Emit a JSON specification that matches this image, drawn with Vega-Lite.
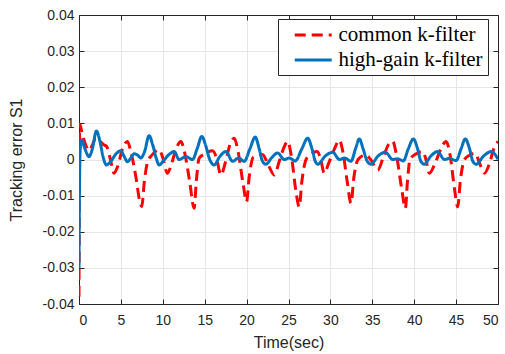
{
  "$schema": "https://vega.github.io/schema/vega-lite/v6.json",
  "width": 419,
  "height": 289,
  "autosize": {"type": "none"},
  "padding": {"left": 79, "top": 15, "right": 7, "bottom": 50},
  "config": {
    "view": {"stroke": "#262626", "strokeWidth": 1},
    "font": "Liberation Sans",
    "axis": {
      "labelColor": "#262626",
      "labelFontSize": 14,
      "labelFont": "Liberation Sans",
      "tickColor": "#262626",
      "domainColor": "#262626",
      "gridColor": "#e6e6e6",
      "tickSize": -5,
      "titleFont": "Liberation Sans",
      "titleFontSize": 16,
      "titleFontWeight": "normal",
      "titleColor": "#262626"
    }
  },
  "data": {
    "values": [
      {"t": 0, "v": -0.038, "s": "common k-filter"},
      {"t": 0.08, "v": 0.0098, "s": "common k-filter"},
      {"t": 0.4, "v": 0.007, "s": "common k-filter"},
      {"t": 0.8, "v": 0.004, "s": "common k-filter"},
      {"t": 1.2, "v": 0.0025, "s": "common k-filter"},
      {"t": 1.6, "v": 0.004, "s": "common k-filter"},
      {"t": 2.0, "v": 0.0059, "s": "common k-filter"},
      {"t": 2.5, "v": 0.005, "s": "common k-filter"},
      {"t": 3.0, "v": 0.004, "s": "common k-filter"},
      {"t": 3.3, "v": 0.0036, "s": "common k-filter"},
      {"t": 3.7, "v": 0.0005, "s": "common k-filter"},
      {"t": 4.18, "v": -0.0038, "s": "common k-filter"},
      {"t": 4.6, "v": -0.002, "s": "common k-filter"},
      {"t": 5.2, "v": 0.003, "s": "common k-filter"},
      {"t": 5.78, "v": 0.005, "s": "common k-filter"},
      {"t": 6.2, "v": 0.002, "s": "common k-filter"},
      {"t": 6.8, "v": -0.005, "s": "common k-filter"},
      {"t": 7.2, "v": -0.011, "s": "common k-filter"},
      {"t": 7.49, "v": -0.013, "s": "common k-filter"},
      {"t": 7.8, "v": -0.006, "s": "common k-filter"},
      {"t": 8.2, "v": -0.0005, "s": "common k-filter"},
      {"t": 8.7, "v": 0.0012, "s": "common k-filter"},
      {"t": 9.56, "v": 0.0027, "s": "common k-filter"},
      {"t": 10.0, "v": 0.0005, "s": "common k-filter"},
      {"t": 10.56, "v": -0.0038, "s": "common k-filter"},
      {"t": 11.0, "v": -0.0015, "s": "common k-filter"},
      {"t": 11.6, "v": 0.003, "s": "common k-filter"},
      {"t": 12.15, "v": 0.005, "s": "common k-filter"},
      {"t": 12.6, "v": 0.002, "s": "common k-filter"},
      {"t": 13.2, "v": -0.006, "s": "common k-filter"},
      {"t": 13.74, "v": -0.0135, "s": "common k-filter"},
      {"t": 14.0, "v": -0.006, "s": "common k-filter"},
      {"t": 14.34, "v": 0.0004, "s": "common k-filter"},
      {"t": 15.0, "v": 0.0015, "s": "common k-filter"},
      {"t": 15.93, "v": 0.0024, "s": "common k-filter"},
      {"t": 16.4, "v": 0.0005, "s": "common k-filter"},
      {"t": 16.93, "v": -0.0043, "s": "common k-filter"},
      {"t": 17.5, "v": -0.0005, "s": "common k-filter"},
      {"t": 18.0, "v": 0.004, "s": "common k-filter"},
      {"t": 18.52, "v": 0.0059, "s": "common k-filter"},
      {"t": 19.0, "v": 0.002, "s": "common k-filter"},
      {"t": 19.6, "v": -0.007, "s": "common k-filter"},
      {"t": 20.0, "v": -0.0117, "s": "common k-filter"},
      {"t": 20.3, "v": -0.005, "s": "common k-filter"},
      {"t": 20.8, "v": 0.0006, "s": "common k-filter"},
      {"t": 21.4, "v": 0.001, "s": "common k-filter"},
      {"t": 21.9, "v": 0.0014, "s": "common k-filter"},
      {"t": 22.5, "v": -0.001, "s": "common k-filter"},
      {"t": 23.3, "v": -0.0043, "s": "common k-filter"},
      {"t": 23.9, "v": -0.0005, "s": "common k-filter"},
      {"t": 24.4, "v": 0.003, "s": "common k-filter"},
      {"t": 24.9, "v": 0.005, "s": "common k-filter"},
      {"t": 25.4, "v": 0.0, "s": "common k-filter"},
      {"t": 25.9, "v": -0.009, "s": "common k-filter"},
      {"t": 26.28, "v": -0.0131, "s": "common k-filter"},
      {"t": 26.6, "v": -0.006, "s": "common k-filter"},
      {"t": 27.1, "v": 0.0, "s": "common k-filter"},
      {"t": 27.7, "v": 0.0015, "s": "common k-filter"},
      {"t": 28.4, "v": 0.0022, "s": "common k-filter"},
      {"t": 28.8, "v": 0.0005, "s": "common k-filter"},
      {"t": 29.27, "v": -0.0038, "s": "common k-filter"},
      {"t": 29.8, "v": -0.001, "s": "common k-filter"},
      {"t": 30.5, "v": 0.003, "s": "common k-filter"},
      {"t": 31.07, "v": 0.0054, "s": "common k-filter"},
      {"t": 31.5, "v": 0.002, "s": "common k-filter"},
      {"t": 32.0, "v": -0.006, "s": "common k-filter"},
      {"t": 32.46, "v": -0.0121, "s": "common k-filter"},
      {"t": 32.8, "v": -0.005, "s": "common k-filter"},
      {"t": 33.3, "v": 0.0, "s": "common k-filter"},
      {"t": 34.2, "v": 0.0013, "s": "common k-filter"},
      {"t": 34.8, "v": 0.0, "s": "common k-filter"},
      {"t": 35.65, "v": -0.0029, "s": "common k-filter"},
      {"t": 36.3, "v": 0.0005, "s": "common k-filter"},
      {"t": 36.9, "v": 0.004, "s": "common k-filter"},
      {"t": 37.44, "v": 0.005, "s": "common k-filter"},
      {"t": 37.9, "v": 0.001, "s": "common k-filter"},
      {"t": 38.5, "v": -0.008, "s": "common k-filter"},
      {"t": 38.95, "v": -0.0135, "s": "common k-filter"},
      {"t": 39.2, "v": -0.006, "s": "common k-filter"},
      {"t": 39.5, "v": 0.0, "s": "common k-filter"},
      {"t": 40.2, "v": 0.0015, "s": "common k-filter"},
      {"t": 41.0, "v": 0.0022, "s": "common k-filter"},
      {"t": 41.4, "v": 0.0, "s": "common k-filter"},
      {"t": 41.8, "v": -0.0038, "s": "common k-filter"},
      {"t": 42.5, "v": -0.001, "s": "common k-filter"},
      {"t": 43.2, "v": 0.003, "s": "common k-filter"},
      {"t": 43.8, "v": 0.005, "s": "common k-filter"},
      {"t": 44.3, "v": 0.001, "s": "common k-filter"},
      {"t": 44.8, "v": -0.008, "s": "common k-filter"},
      {"t": 45.2, "v": -0.0131, "s": "common k-filter"},
      {"t": 45.5, "v": -0.006, "s": "common k-filter"},
      {"t": 46.0, "v": 0.0, "s": "common k-filter"},
      {"t": 46.6, "v": 0.0012, "s": "common k-filter"},
      {"t": 47.3, "v": 0.0017, "s": "common k-filter"},
      {"t": 47.8, "v": -0.001, "s": "common k-filter"},
      {"t": 48.4, "v": -0.0038, "s": "common k-filter"},
      {"t": 49.0, "v": -0.001, "s": "common k-filter"},
      {"t": 49.5, "v": 0.003, "s": "common k-filter"},
      {"t": 50.0, "v": 0.005, "s": "common k-filter"},

      {"t": 0, "v": -0.030, "s": "high-gain k-filter"},
      {"t": 0.05, "v": -0.01, "s": "high-gain k-filter"},
      {"t": 0.15, "v": 0.003, "s": "high-gain k-filter"},
      {"t": 0.32, "v": 0.0054, "s": "high-gain k-filter"},
      {"t": 0.7, "v": 0.003, "s": "high-gain k-filter"},
      {"t": 1.2, "v": 0.0008, "s": "high-gain k-filter"},
      {"t": 1.6, "v": 0.003, "s": "high-gain k-filter"},
      {"t": 2.08, "v": 0.0079, "s": "high-gain k-filter"},
      {"t": 2.5, "v": 0.005, "s": "high-gain k-filter"},
      {"t": 2.9, "v": 0.0005, "s": "high-gain k-filter"},
      {"t": 3.27, "v": -0.0015, "s": "high-gain k-filter"},
      {"t": 3.8, "v": -0.0005, "s": "high-gain k-filter"},
      {"t": 4.4, "v": 0.0015, "s": "high-gain k-filter"},
      {"t": 4.98, "v": 0.0024, "s": "high-gain k-filter"},
      {"t": 5.4, "v": 0.0008, "s": "high-gain k-filter"},
      {"t": 5.78, "v": -0.0006, "s": "high-gain k-filter"},
      {"t": 6.2, "v": 0.0005, "s": "high-gain k-filter"},
      {"t": 6.57, "v": 0.0016, "s": "high-gain k-filter"},
      {"t": 7.0, "v": 0.0012, "s": "high-gain k-filter"},
      {"t": 7.37, "v": 0.0004, "s": "high-gain k-filter"},
      {"t": 7.8, "v": 0.002, "s": "high-gain k-filter"},
      {"t": 8.37, "v": 0.0066, "s": "high-gain k-filter"},
      {"t": 8.8, "v": 0.004, "s": "high-gain k-filter"},
      {"t": 9.2, "v": 0.0005, "s": "high-gain k-filter"},
      {"t": 9.56, "v": -0.0015, "s": "high-gain k-filter"},
      {"t": 10.2, "v": 0.0, "s": "high-gain k-filter"},
      {"t": 10.8, "v": 0.0015, "s": "high-gain k-filter"},
      {"t": 11.35, "v": 0.0022, "s": "high-gain k-filter"},
      {"t": 11.95, "v": 0.0, "s": "high-gain k-filter"},
      {"t": 12.75, "v": 0.0008, "s": "high-gain k-filter"},
      {"t": 13.55, "v": 0.0, "s": "high-gain k-filter"},
      {"t": 14.1, "v": 0.003, "s": "high-gain k-filter"},
      {"t": 14.66, "v": 0.0064, "s": "high-gain k-filter"},
      {"t": 15.1, "v": 0.004, "s": "high-gain k-filter"},
      {"t": 15.6, "v": 0.0, "s": "high-gain k-filter"},
      {"t": 16.13, "v": -0.0015, "s": "high-gain k-filter"},
      {"t": 16.8, "v": 0.0008, "s": "high-gain k-filter"},
      {"t": 17.53, "v": 0.0022, "s": "high-gain k-filter"},
      {"t": 18.33, "v": -0.0005, "s": "high-gain k-filter"},
      {"t": 19.04, "v": 0.0004, "s": "high-gain k-filter"},
      {"t": 19.72, "v": -0.0005, "s": "high-gain k-filter"},
      {"t": 20.4, "v": 0.003, "s": "high-gain k-filter"},
      {"t": 21.03, "v": 0.0062, "s": "high-gain k-filter"},
      {"t": 21.5, "v": 0.003, "s": "high-gain k-filter"},
      {"t": 21.9, "v": -0.0005, "s": "high-gain k-filter"},
      {"t": 22.3, "v": -0.0013, "s": "high-gain k-filter"},
      {"t": 23.0, "v": 0.0005, "s": "high-gain k-filter"},
      {"t": 23.7, "v": 0.0018, "s": "high-gain k-filter"},
      {"t": 24.5, "v": 0.0, "s": "high-gain k-filter"},
      {"t": 25.1, "v": 0.0004, "s": "high-gain k-filter"},
      {"t": 25.8, "v": -0.0004, "s": "high-gain k-filter"},
      {"t": 26.6, "v": 0.003, "s": "high-gain k-filter"},
      {"t": 27.29, "v": 0.0059, "s": "high-gain k-filter"},
      {"t": 27.8, "v": 0.003, "s": "high-gain k-filter"},
      {"t": 28.2, "v": -0.0005, "s": "high-gain k-filter"},
      {"t": 28.5, "v": -0.0013, "s": "high-gain k-filter"},
      {"t": 29.4, "v": 0.001, "s": "high-gain k-filter"},
      {"t": 30.28, "v": 0.002, "s": "high-gain k-filter"},
      {"t": 31.07, "v": 0.0, "s": "high-gain k-filter"},
      {"t": 31.7, "v": 0.0004, "s": "high-gain k-filter"},
      {"t": 32.46, "v": -0.0005, "s": "high-gain k-filter"},
      {"t": 33.0, "v": 0.003, "s": "high-gain k-filter"},
      {"t": 33.45, "v": 0.0057, "s": "high-gain k-filter"},
      {"t": 33.9, "v": 0.003, "s": "high-gain k-filter"},
      {"t": 34.4, "v": -0.0005, "s": "high-gain k-filter"},
      {"t": 34.85, "v": -0.0013, "s": "high-gain k-filter"},
      {"t": 35.7, "v": 0.001, "s": "high-gain k-filter"},
      {"t": 36.56, "v": 0.002, "s": "high-gain k-filter"},
      {"t": 37.44, "v": 0.0, "s": "high-gain k-filter"},
      {"t": 38.0, "v": 0.0002, "s": "high-gain k-filter"},
      {"t": 38.7, "v": -0.0004, "s": "high-gain k-filter"},
      {"t": 39.3, "v": 0.003, "s": "high-gain k-filter"},
      {"t": 39.9, "v": 0.0057, "s": "high-gain k-filter"},
      {"t": 40.4, "v": 0.003, "s": "high-gain k-filter"},
      {"t": 40.8, "v": -0.0005, "s": "high-gain k-filter"},
      {"t": 41.2, "v": -0.0013, "s": "high-gain k-filter"},
      {"t": 42.0, "v": 0.001, "s": "high-gain k-filter"},
      {"t": 42.8, "v": 0.0022, "s": "high-gain k-filter"},
      {"t": 43.6, "v": 0.0, "s": "high-gain k-filter"},
      {"t": 44.2, "v": 0.0003, "s": "high-gain k-filter"},
      {"t": 45.0, "v": -0.0003, "s": "high-gain k-filter"},
      {"t": 45.6, "v": 0.003, "s": "high-gain k-filter"},
      {"t": 46.1, "v": 0.0057, "s": "high-gain k-filter"},
      {"t": 46.6, "v": 0.003, "s": "high-gain k-filter"},
      {"t": 47.0, "v": -0.0005, "s": "high-gain k-filter"},
      {"t": 47.4, "v": -0.0013, "s": "high-gain k-filter"},
      {"t": 48.3, "v": 0.001, "s": "high-gain k-filter"},
      {"t": 49.2, "v": 0.0022, "s": "high-gain k-filter"},
      {"t": 50.0, "v": 0.0001, "s": "high-gain k-filter"}
    ]
  },
  "encoding": {
    "color": {
      "field": "s", "type": "nominal",
      "scale": {"domain": ["common k-filter", "high-gain k-filter"], "range": ["#ff0000", "#0072bd"]},
      "legend": {
        "title": null,
        "orient": "none",
        "legendX": 199,
        "legendY": 4,
        "fillColor": "#ffffff",
        "strokeColor": "#262626",
        "padding": 5,
        "rowPadding": 4,
        "labelFont": "Liberation Serif",
        "labelFontSize": 21,
        "labelColor": "#000000",
        "labelOffset": 33.5,
        "labelLimit": 300,
        "symbolType": "M0.08,0H4.08",
        "symbolSize": 342,
        "symbolStrokeWidth": 3
      }
    },
    "strokeDash": {
      "field": "s", "type": "nominal",
      "scale": {"domain": ["common k-filter", "high-gain k-filter"], "range": [[11, 6], [1, 0]]},
      "legend": null
    }
  },
  "layer": [
    {
      "transform": [{"filter": "datum.s === 'common k-filter'"}],
      "mark": {"type": "line", "strokeWidth": 3, "interpolate": "monotone", "clip": true},
      "encoding": {
        "x": {"field": "t", "type": "quantitative", "scale": {"domain": [0, 50], "nice": false},
          "axis": {"values": [0,5,10,15,20,25,30,35,40,45,50], "title": "Time(sec)", "grid": true, "labelPadding": 14, "titleY": 38, "titleBaseline": "middle"}},
        "y": {"field": "v", "type": "quantitative", "scale": {"domain": [-0.04, 0.04], "nice": false, "zero": false},
          "axis": {"values": [-0.04,-0.03,-0.02,-0.01,0,0.01,0.02,0.03,0.04], "title": "Tracking error S1", "grid": true, "labelPadding": 10,
            "labelExpr": "datum.value === 0 ? '0' : replace(format(datum.value, '.2f'), '\u2212', '-')",
            "titleX": -55, "titleY": 144.5, "titleBaseline": "bottom"}}
      }
    },
    {
      "transform": [{"filter": "datum.s === 'high-gain k-filter'"}],
      "mark": {"type": "line", "strokeWidth": 3, "interpolate": "monotone", "clip": true},
      "encoding": {
        "x": {"field": "t", "type": "quantitative",
          "axis": {"orient": "top", "values": [0,5,10,15,20,25,30,35,40,45,50], "labels": false, "title": null, "grid": false}},
        "y": {"field": "v", "type": "quantitative",
          "axis": {"orient": "right", "values": [-0.04,-0.03,-0.02,-0.01,0,0.01,0.02,0.03,0.04], "labels": false, "title": null, "grid": false}}
      }
    }
  ],
  "resolve": {"axis": {"x": "independent", "y": "independent"}}
}
